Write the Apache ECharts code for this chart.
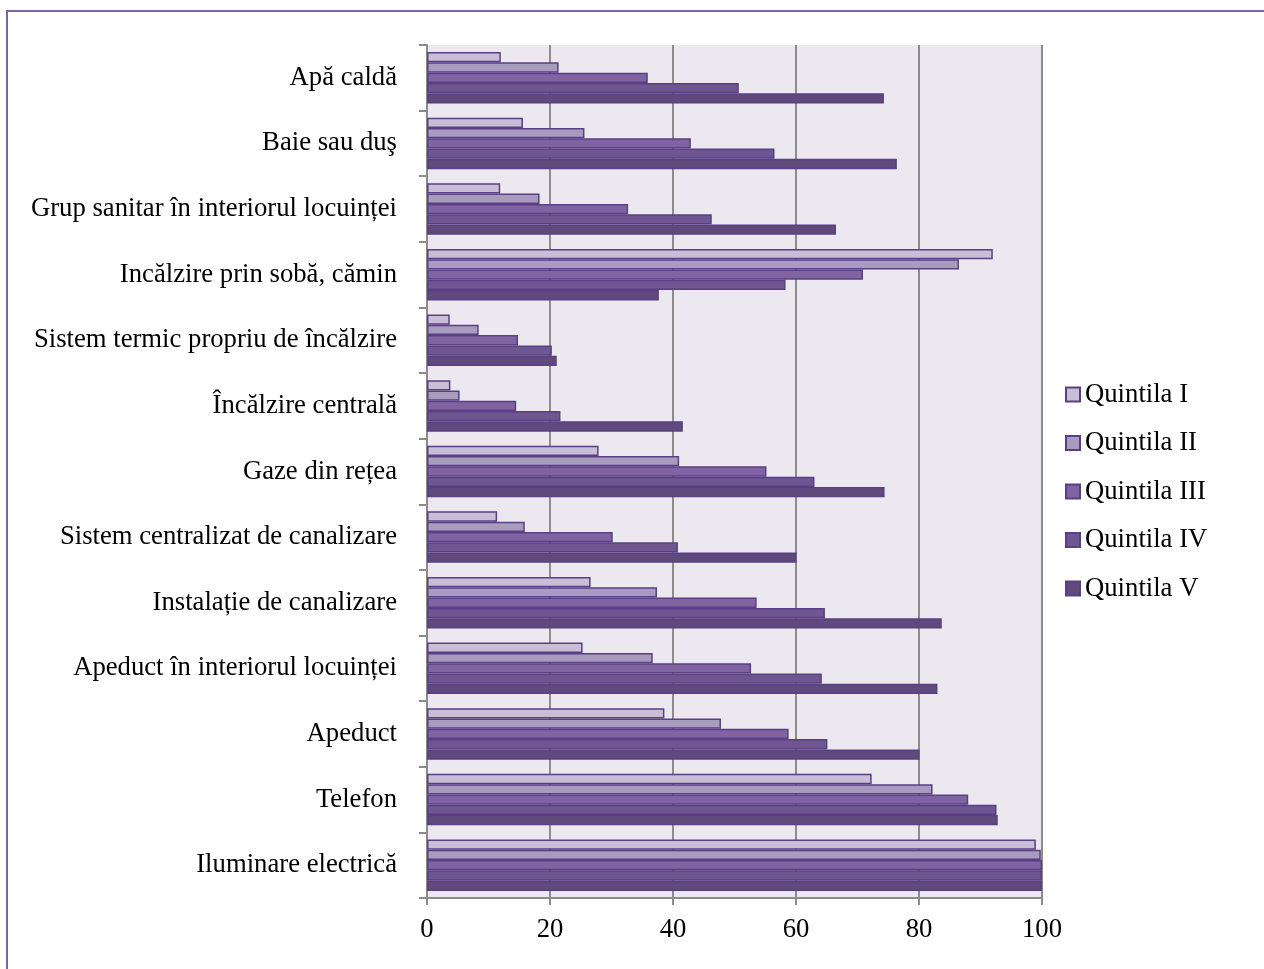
<!DOCTYPE html>
<html>
<head>
<meta charset="utf-8">
<script src="https://cdn.jsdelivr.net/npm/echarts@6/dist/echarts.min.js"></script>
<style>
html,body{margin:0;padding:0;background:#fff;overflow:hidden;}
#frame{position:absolute;left:6px;top:10px;width:1300px;height:1000px;border-left:2px solid #8064a2;border-top:2px solid #8064a2;}
#chart{position:absolute;left:0;top:0;width:1264px;height:969px;}
</style>
</head>
<body>
<div id="frame"></div>
<div id="chart"></div>
<script>
const categories = [
  'Apă caldă',
  'Baie sau duş',
  'Grup sanitar în interiorul locuinței',
  'Incălzire prin sobă, cămin',
  'Sistem termic propriu de încălzire',
  'Încălzire centrală',
  'Gaze din rețea',
  'Sistem centralizat de canalizare',
  'Instalație de canalizare',
  'Apeduct în interiorul locuinței',
  'Apeduct',
  'Telefon',
  'Iluminare electrică'
];
const seriesNames = ['Quintila I', 'Quintila II', 'Quintila III', 'Quintila IV', 'Quintila V'];
const quintila1 = [12.0, 15.6, 11.9, 92.0, 3.7, 3.8, 27.9, 11.4, 26.6, 25.3, 38.6, 72.3, 99.0];
const quintila2 = [21.4, 25.6, 18.3, 86.5, 8.4, 5.3, 41.0, 15.9, 37.4, 36.7, 47.8, 82.2, 99.8];
const quintila3 = [35.9, 42.9, 32.7, 70.9, 14.8, 14.5, 55.2, 30.2, 53.6, 52.7, 58.8, 88.0, 100];
const quintila4 = [50.7, 56.5, 46.3, 58.3, 20.3, 21.7, 63.0, 40.8, 64.7, 64.2, 65.1, 92.6, 100];
const quintila5 = [74.3, 76.4, 66.5, 37.7, 21.1, 41.6, 74.4, 60.1, 83.7, 83.0, 80.1, 92.8, 100];
const xTicks = [0, 20, 40, 60, 80, 100];

const allValues = [quintila1, quintila2, quintila3, quintila4, quintila5];
const colors = ['#c8bfd7', '#a99bbe', '#8064a2', '#6e5790', '#5f4a7b'];
const fontFam = '"Liberation Serif", "Times New Roman", serif';
const fs = 26.7;

const chart = echarts.init(document.getElementById('chart'), null, {renderer: 'canvas'});
chart.setOption({
  backgroundColor: 'transparent',
  animation: false,
  textStyle: {fontFamily: fontFam},
  grid: {
    left: 427, right: 222, top: 45, bottom: 71,
    show: true, backgroundColor: '#ebe8ef', borderWidth: 0
  },
  legend: {
    orient: 'vertical',
    left: 1060, top: 376,
    itemWidth: 14, itemHeight: 14, itemGap: 21.5,
    icon: 'rect',
    textStyle: {fontFamily: fontFam, fontSize: fs, color: '#000', padding: [0, 0, 0, 0]},
    data: seriesNames
  },
  xAxis: {
    type: 'value',
    min: 0, max: 100, interval: 20,
    axisLine: {show: true, lineStyle: {color: '#8c8c8c', width: 2}},
    axisTick: {show: true, length: 7, lineStyle: {color: '#8c8c8c', width: 2}},
    splitLine: {show: true, lineStyle: {color: '#8c8c8c', width: 2}},
    axisLabel: {
      color: '#000', fontSize: fs, fontFamily: fontFam, margin: 18,
      formatter: function (v) { return xTicks.indexOf(v) >= 0 ? String(v) : ''; }
    }
  },
  yAxis: {
    type: 'category',
    inverse: true,
    data: categories,
    axisLine: {show: true, lineStyle: {color: '#8c8c8c', width: 2}},
    axisTick: {show: true, length: 8, inside: false, lineStyle: {color: '#8c8c8c', width: 2}},
    axisLabel: {color: '#000', fontSize: fs, fontFamily: fontFam, margin: 30}
  },
  series: seriesNames.map((name, i) => ({
    name: name,
    type: 'bar',
    data: allValues[i],
    barWidth: 10.3,
    barGap: '0%',
    barCategoryGap: '21%',
    itemStyle: {color: colors[i], borderColor: '#5a3f86', borderWidth: 1.5}
  }))
});
</script>
</body>
</html>
